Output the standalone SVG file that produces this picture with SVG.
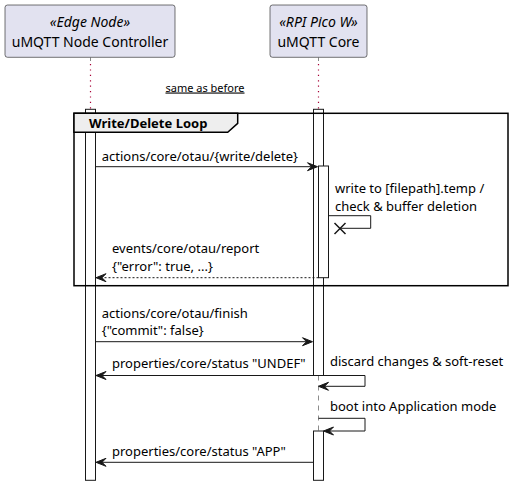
<svg xmlns="http://www.w3.org/2000/svg" width="512" height="486" viewBox="0 0 512 486">
<style>
text{font-family:"Noto Sans","Open Sans","DejaVu Sans",sans-serif;fill:#000}
.pbox{fill:#E2E2F0;stroke:#181818;stroke-width:0.6}
.pname{font-size:14px;text-anchor:middle}
.stereo{font-size:14px;font-style:italic;text-anchor:middle}
.msg{font-size:13px}
.act{fill:#FFFFFF;stroke:#181818;stroke-width:1}
.ln{stroke:#181818;stroke-width:1;fill:none}
.dash{stroke:#181818;stroke-width:1;stroke-dasharray:2,2;fill:none}
.life{stroke:#181818;stroke-width:0.5;stroke-dasharray:5,5;fill:none}
.dot{stroke:#A80036;stroke-width:1.2;stroke-dasharray:1.2,4.2;fill:none}
.head{fill:#181818;stroke:#181818;stroke-width:1}
</style>
<g id="lifelines">
<line x1="90.5" y1="57.5" x2="90.5" y2="61" stroke="#888" stroke-width="1"/>
<line class="dot" x1="90.5" y1="64" x2="90.5" y2="109"/>
<line x1="318.5" y1="57.5" x2="318.5" y2="61" stroke="#888" stroke-width="1"/>
<line class="dot" x1="318.5" y1="64" x2="318.5" y2="109"/>
<line class="life" x1="318.5" y1="375.5" x2="318.5" y2="431"/>
</g>
<g id="node-controller">
<rect class="pbox" x="5" y="5" width="170" height="52.3" rx="2.5"/>
<text class="stereo" x="90" y="26.7">«Edge Node»</text>
<text class="pname" x="90" y="46.7">uMQTT Node Controller</text>
</g>
<g id="core">
<rect class="pbox" x="270" y="5" width="97" height="52.3" rx="2.5"/>
<text class="stereo" x="318.5" y="26.7">«RPI Pico W»</text>
<text class="pname" x="318.5" y="46.7">uMQTT Core</text>
</g>
<g id="delay">
<text x="205" y="91.5" style="font-size:11px;text-anchor:middle;text-decoration:underline">same as before</text>
</g>
<g id="activations">
<rect class="act" x="85.5" y="109.3" width="10" height="371"/>
<rect class="act" x="313.5" y="109.3" width="10" height="266.2"/>
<rect class="act" x="313.5" y="431" width="10" height="49.3"/>
</g>
<g id="loop">
<rect x="74" y="113.3" width="434" height="172.4" fill="none" stroke="#000" stroke-width="1.5"/>
<path d="M74,113.3 L237.7,113.3 L237.7,123.3 L227.7,132.3 L74,132.3 Z" fill="#EEEEEE" stroke="#000" stroke-width="1.5"/>
<text x="89" y="128" style="font-size:13px;font-weight:bold">Write/Delete Loop</text>
</g>
<g id="nested-activation">
<rect class="act" x="318.5" y="166" width="10" height="111.7"/>
</g>
<g id="connectors">
<line class="ln" x1="95.5" y1="166.7" x2="314" y2="166.7"/>
<polygon class="head" points="307.5,162.7 317.5,166.7 307.5,170.7 311.5,166.7"/>
<text class="msg" x="101.7" y="160.7">actions/core/otau/{write/delete}</text>

<polyline class="ln" points="328.5,215.7 370.7,215.7 370.7,228.3 340,228.3"/>
<path d="M334.5,223 L345.5,234 M345.5,223 L334.5,234" stroke="#181818" stroke-width="1.5"/>
<text class="msg" x="335" y="193">write to [filepath].temp /</text>
<text class="msg" x="335" y="210.5">check &amp; buffer deletion</text>

<line class="dash" x1="318.5" y1="277.7" x2="100" y2="277.7"/>
<polygon class="head" points="106,273.7 96,277.7 106,281.7 102,277.7"/>
<text class="msg" x="112" y="253">events/core/otau/report</text>
<text class="msg" x="112" y="270.7">{"error": true, ...}</text>

<line class="ln" x1="95.5" y1="341.7" x2="309" y2="341.7"/>
<polygon class="head" points="302.5,337.7 312.5,341.7 302.5,345.7 306.5,341.7"/>
<text class="msg" x="101.7" y="317.7">actions/core/otau/finish</text>
<text class="msg" x="101.7" y="335">{"commit": false}</text>

<line class="ln" x1="313.5" y1="375.5" x2="100" y2="375.5"/>
<polygon class="head" points="106,371.5 96,375.5 106,379.5 102,375.5"/>
<text class="msg" x="112" y="368">properties/core/status "UNDEF"</text>

<polyline class="ln" points="323.5,375.5 365,375.5 365,386.3 322,386.3"/>
<polygon class="head" points="328.5,382.3 318.5,386.3 328.5,390.3 324.5,386.3"/>
<text class="msg" x="330" y="366">discard changes &amp; soft-reset</text>

<polyline class="ln" points="318.5,418.3 365,418.3 365,431 327,431"/>
<polygon class="head" points="333.5,427 323.5,431 333.5,435 329.5,431"/>
<text class="msg" x="330" y="410.7">boot into Application mode</text>

<line class="ln" x1="313.5" y1="462.3" x2="100" y2="462.3"/>
<polygon class="head" points="106,458.3 96,462.3 106,466.3 102,462.3"/>
<text class="msg" x="112" y="455.7">properties/core/status "APP"</text>
</g>
</svg>
